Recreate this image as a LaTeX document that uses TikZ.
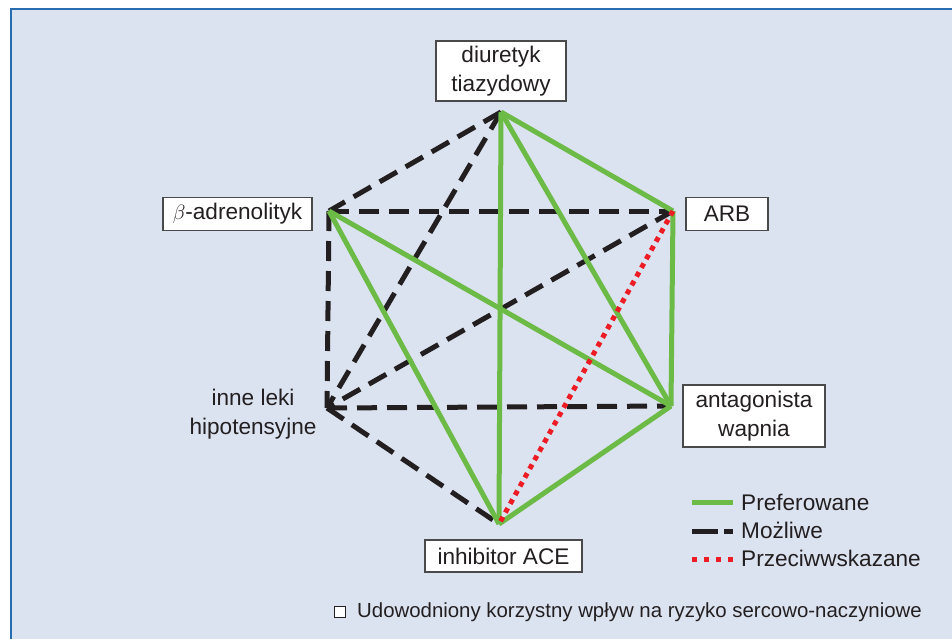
\documentclass[tikz,border=0pt]{standalone}
\usepackage{fontspec}
\setmainfont{Liberation Sans}
\begin{document}
\begin{tikzpicture}[x=1pt,y=-1pt,
  txt/.style={font=\fontsize{22.6}{29.5}\selectfont, text=textc, align=center, inner sep=0pt},
  lbox/.style={txt, draw=boxc, line width=1.2pt, fill=white},
  pref/.style={draw=prefc, line width=5pt},
  poss/.style={draw=textc, line width=5pt, dash pattern=on 20pt off 10pt},
  contra/.style={draw=contrac, line width=5pt, dash pattern=on 5pt off 5pt},
]
\definecolor{bgc}{HTML}{DCE3F0}
\definecolor{framec}{HTML}{2A6CB0}
\definecolor{textc}{HTML}{231F20}
\definecolor{boxc}{HTML}{4A4A4A}
\definecolor{prefc}{HTML}{6BBB46}
\definecolor{contrac}{HTML}{ED1C24}
\useasboundingbox (0,0) rectangle (952,638);
\fill[white] (0,0) rectangle (952,638);
\draw[framec, line width=2pt, fill=bgc] (11,9) rectangle (970,660);

% vertices
\coordinate (D) at (501,112);
\coordinate (R) at (673,211);
\coordinate (C) at (671,406);
\coordinate (A) at (499,524);
\coordinate (O) at (327,408);
\coordinate (B) at (329,211);

% possible
\draw[poss] (D) -- (B);
\draw[poss] (D) -- (O);
\draw[poss] (B) -- (R);
\draw[poss] (B) -- (O);
\draw[poss] (R) -- (O);
\draw[poss] (O) -- (C);
\draw[poss] (O) -- (A);
% preferred
\draw[pref] (D) -- (R);
\draw[pref] (D) -- (C);
\draw[pref] (D) -- (A);
\draw[pref] (R) -- (C);
\draw[pref] (C) -- (A);
\draw[pref] (B) -- (C);
\draw[pref] (B) -- (A);
% contraindicated
\draw[contra] (R) -- (A);

% labels
\node[lbox, minimum width=130pt, minimum height=60pt] (nD) at (501,71) {diuretyk\\tiazydowy};
\node[lbox, minimum width=149pt, minimum height=33pt] (nB) at (237.5,214) {$\beta$-adrenolityk};
\node[lbox, minimum width=82pt, minimum height=33pt] (nR) at (727,214) {ARB};
\node[lbox, minimum width=142pt, minimum height=62pt] (nC) at (754,416) {antagonista\\wapnia};
\node[lbox, minimum width=157pt, minimum height=32pt] (nA) at (503.5,556) {inhibitor ACE};
\node[txt] (nO) at (253,414) {inne leki\\hipotensyjne};

% legend
\coordinate (l1a) at (692,502); \coordinate (l1b) at (733,502);
\coordinate (l2a) at (692,531); \coordinate (l2b) at (733,531);
\coordinate (l3a) at (692,559); \coordinate (l3b) at (733,559);
\draw[draw=prefc, line width=5pt] (l1a) -- (l1b);
\draw[draw=textc, line width=5pt, dash pattern=on 26pt off 6pt] (l2a) -- (l2b);
\draw[draw=contrac, line width=5pt, dash pattern=on 5pt off 7pt] (l3a) -- (l3b);
\node[txt, anchor=west] (t1) at (741,502) {Preferowane};
\node[txt, anchor=west] (t2) at (741,530) {Możliwe};
\node[txt, anchor=west] (t3) at (741,558) {Przeciwwskazane};

% footnote
\node[draw=textc, line width=1pt, fill=white, minimum size=11pt, inner sep=0pt] (sq) at (339.5,612) {};
\node[anchor=west, font=\fontsize{20.4}{24}\selectfont, text=textc, inner sep=0pt] (fn) at (357,612) {Udowodniony korzystny wpływ na ryzyko sercowo-naczyniowe};
\end{tikzpicture}
\end{document}
